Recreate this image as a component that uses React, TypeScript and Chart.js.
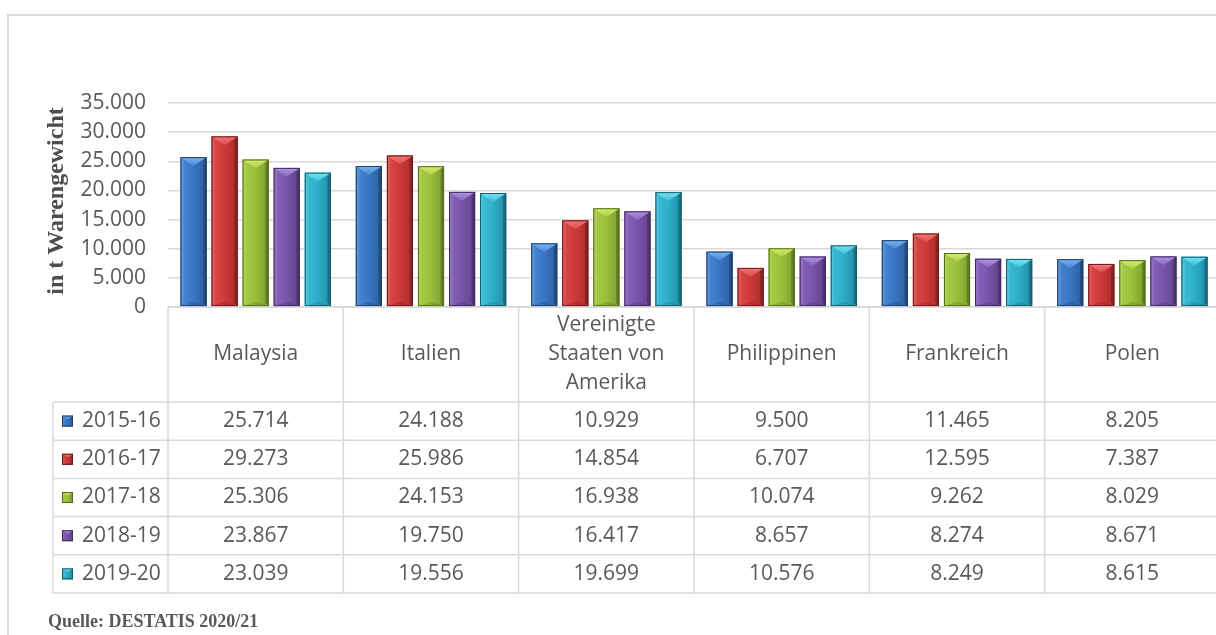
import { useEffect, useRef } from 'react';
import { Chart, registerables } from 'chart.js';

Chart.register(...registerables);

// Categories (multi-line where the header cell wraps)
const countries: string[][] = [
  ['Malaysia'],
  ['Italien'],
  ['Vereinigte', 'Staaten von', 'Amerika'],
  ['Philippinen'],
  ['Frankreich'],
  ['Polen'],
];

const seasons = ['2015-16', '2016-17', '2017-18', '2018-19', '2019-20'];

// Export volumes in t Warengewicht
const v2015_16 = [25714, 24188, 10929, 9500, 11465, 8205];
const v2016_17 = [29273, 25986, 14854, 6707, 12595, 7387];
const v2017_18 = [25306, 24153, 16938, 10074, 9262, 8029];
const v2018_19 = [23867, 19750, 16417, 8657, 8274, 8671];
const v2019_20 = [23039, 19556, 19699, 10576, 8249, 8615];

const seriesValues = [v2015_16, v2016_17, v2017_18, v2018_19, v2019_20];

const yMin = 0;
const yMax = 35000;
const yStep = 5000;

const axisTitle = 'in t Warengewicht';
const sourceNote = 'Quelle: DESTATIS 2020/21';

type Palette = { base: string; light: string; mid: string; shade: string; edge: string };

const palettes: Palette[] = [
  { base: '#3a78c6', light: '#7ab4f2', mid: '#4a88d6', shade: '#2a5e9e', edge: '#1d3f6a' },
  { base: '#d03a3a', light: '#f27a7a', mid: '#dc4a4a', shade: '#aa2c2c', edge: '#6e1818' },
  { base: '#9cc23c', light: '#d8f070', mid: '#a8cc46', shade: '#7c9c2c', edge: '#4f6a1a' },
  { base: '#7a56ac', light: '#b296e4', mid: '#8864ba', shade: '#60428c', edge: '#3e2a5e' },
  { base: '#2fb0cc', light: '#78e8f8', mid: '#3cbcd6', shade: '#218ca6', edge: '#145a6c' },
];

const textColor = '#595959';
const titleColor = '#4d4d4d';
const lineColor = '#d9d9d9';
const sansFont = '"Open Sans", sans-serif';
const serifFont = '"Liberation Serif", "Times New Roman", serif';

const fmt = (n: number) => String(n).replace(/\B(?=(\d{3})+(?!\d))/g, '.');

function poly(ctx: CanvasRenderingContext2D, pts: number[][], fill: string | CanvasGradient) {
  ctx.beginPath();
  ctx.moveTo(pts[0][0], pts[0][1]);
  for (let i = 1; i < pts.length; i++) ctx.lineTo(pts[i][0], pts[i][1]);
  ctx.closePath();
  ctx.fillStyle = fill;
  ctx.fill();
}

// Beveled "3D" column look
function drawBevel(
  ctx: CanvasRenderingContext2D,
  left: number,
  top: number,
  right: number,
  bottom: number,
  pal: Palette,
) {
  const w = right - left;
  const h = bottom - top;
  if (w <= 0 || h <= 0) return;
  const cx = (left + right) / 2;
  ctx.save();
  const g = ctx.createLinearGradient(left, 0, right, 0);
  g.addColorStop(0, pal.mid);
  g.addColorStop(0.45, pal.base);
  g.addColorStop(1, pal.shade);
  ctx.fillStyle = g;
  ctx.fillRect(left, top, w, h);

  const b = Math.min(w * 0.13, h / 2);
  const cap = Math.min(w * 0.34, h / 2);
  // side bevels
  poly(ctx, [[left, top], [left + b, top + b], [left + b, bottom - b], [left, bottom]], 'rgba(255,255,255,0.10)');
  poly(ctx, [[right, top], [right, bottom], [right - b, bottom - b], [right - b, top + b]], 'rgba(0,0,0,0.22)');
  // top cap
  const tg = ctx.createLinearGradient(0, top, 0, top + cap);
  tg.addColorStop(0, pal.light);
  tg.addColorStop(1, pal.mid);
  poly(ctx, [[left, top], [right, top], [cx, top + cap]], tg);
  // bottom lip
  poly(ctx, [[left, bottom], [right, bottom], [cx, bottom - cap * 0.5]], 'rgba(0,0,0,0.12)');
  // outline
  ctx.strokeStyle = pal.edge;
  ctx.lineWidth = 1;
  ctx.strokeRect(left + 0.5, top + 0.5, w - 1, h - 1);
  ctx.restore();
}

const bevelPlugin = {
  id: 'bevelBars',
  afterDatasetsDraw(chart: any) {
    const ctx: CanvasRenderingContext2D = chart.ctx;
    chart.data.datasets.forEach((_: any, di: number) => {
      const meta = chart.getDatasetMeta(di);
      meta.data.forEach((el: any) => {
        const { x, y, base, width } = el.getProps(['x', 'y', 'base', 'width'], true);
        drawBevel(ctx, x - width / 2, Math.min(y, base), x + width / 2, Math.max(y, base), palettes[di]);
      });
    });
  },
};

// Data table under the plot, axis title, frame and source note
const tablePlugin = {
  id: 'dataTable',
  afterDraw(chart: any) {
    const ctx: CanvasRenderingContext2D = chart.ctx;
    const ca = chart.chartArea;
    const n = countries.length;
    const colW = (ca.right - ca.left) / n;
    const headerTop = ca.bottom;
    const headerBottom = headerTop + 95;
    const rowH = 38.2;
    const tableLeft = 53;
    const tableBottom = headerBottom + rowH * seasons.length;

    ctx.save();
    ctx.strokeStyle = lineColor;
    ctx.lineWidth = 1.5;
    ctx.beginPath();
    // horizontal rules
    ctx.moveTo(ca.left, headerTop);
    ctx.lineTo(chart.width, headerTop);
    for (let r = 0; r <= seasons.length; r++) {
      const y = headerBottom + rowH * r;
      ctx.moveTo(tableLeft, y);
      ctx.lineTo(chart.width, y);
    }
    // vertical rules
    ctx.moveTo(tableLeft, headerBottom);
    ctx.lineTo(tableLeft, tableBottom);
    for (let c = 0; c < n; c++) {
      const x = ca.left + colW * c;
      ctx.moveTo(x, headerTop);
      ctx.lineTo(x, tableBottom);
    }
    ctx.stroke();

    // header cells
    ctx.fillStyle = textColor;
    ctx.font = `21px ${sansFont}`;
    ctx.textAlign = 'center';
    ctx.textBaseline = 'middle';
    const lh = 29;
    countries.forEach((lines, c) => {
      const cx = ca.left + colW * (c + 0.5);
      const cy = (headerTop + headerBottom) / 2;
      lines.forEach((t, i) => {
        ctx.fillText(t, cx, cy + (i - (lines.length - 1) / 2) * lh);
      });
    });

    // data rows
    seasons.forEach((s, r) => {
      const cy = headerBottom + rowH * (r + 0.5);
      // legend key
      const k = 11;
      drawBevel(ctx, 62, cy - k / 2, 62 + k, cy + k / 2, palettes[r]);
      ctx.fillStyle = textColor;
      ctx.textAlign = 'left';
      ctx.fillText(s, 82, cy);
      ctx.textAlign = 'center';
      seriesValues[r].forEach((v, c) => {
        ctx.fillText(fmt(v), ca.left + colW * (c + 0.5), cy);
      });
    });

    // axis title
    ctx.save();
    ctx.translate(57, (ca.top + ca.bottom) / 2 - 4);
    ctx.rotate(-Math.PI / 2);
    ctx.font = `bold 24px ${serifFont}`;
    ctx.fillStyle = titleColor;
    ctx.textAlign = 'center';
    ctx.textBaseline = 'middle';
    ctx.fillText(axisTitle, 0, 0);
    ctx.restore();

    // source note
    ctx.font = `bold 18px ${serifFont}`;
    ctx.fillStyle = textColor;
    ctx.textAlign = 'left';
    ctx.textBaseline = 'alphabetic';
    ctx.fillText(sourceNote, 48, 627);

    // outer frame
    ctx.strokeStyle = lineColor;
    ctx.lineWidth = 2;
    ctx.beginPath();
    ctx.moveTo(8, chart.height + 2);
    ctx.lineTo(8, 15);
    ctx.lineTo(chart.width + 2, 15);
    ctx.stroke();
    ctx.restore();
  },
};

export default function App() {
  const canvasRef = useRef<HTMLCanvasElement | null>(null);

  useEffect(() => {
    const canvas = canvasRef.current;
    if (!canvas) return;
    let chart: Chart | null = null;
    let cancelled = false;

    const build = () => {
      if (cancelled) return;
      chart = new Chart(canvas, {
        type: 'bar',
        data: {
          labels: countries,
          datasets: seasons.map((s, i) => ({
            label: s,
            data: seriesValues[i],
            backgroundColor: palettes[i].base,
            borderWidth: 0,
            categoryPercentage: 0.886,
            barPercentage: 0.84,
          })),
        },
        options: {
          responsive: false,
          animation: false,
          devicePixelRatio: 1,
          layout: { padding: { top: 103, bottom: 328, left: 0, right: 0 } },
          plugins: {
            legend: { display: false },
            tooltip: { enabled: false },
          },
          scales: {
            x: { display: false },
            y: {
              min: yMin,
              max: yMax,
              ticks: {
                stepSize: yStep,
                callback: (v: any) => fmt(Number(v)),
                color: textColor,
                font: { family: sansFont, size: 21 },
                padding: 22,
              },
              grid: { color: lineColor, lineWidth: 1.5, drawTicks: false },
              border: { display: false },
              afterFit: (s: any) => {
                s.width = 168;
              },
            },
          },
        },
        plugins: [bevelPlugin, tablePlugin],
      });
    };

    const fonts = (document as any).fonts;
    if (fonts && fonts.load) {
      Promise.all([
        fonts.load(`21px ${sansFont}`),
        fonts.load(`bold 24px ${serifFont}`),
      ]).then(build, build);
    } else {
      build();
    }

    return () => {
      cancelled = true;
      if (chart) chart.destroy();
    };
  }, []);

  return (
    <div
      style={{
        position: 'fixed',
        left: 0,
        top: 0,
        width: 1216,
        height: 635,
        overflow: 'hidden',
        background: '#ffffff',
      }}
    >
      <canvas ref={canvasRef} width={1220} height={635} style={{ width: 1220, height: 635, display: 'block' }} />
    </div>
  );
}
